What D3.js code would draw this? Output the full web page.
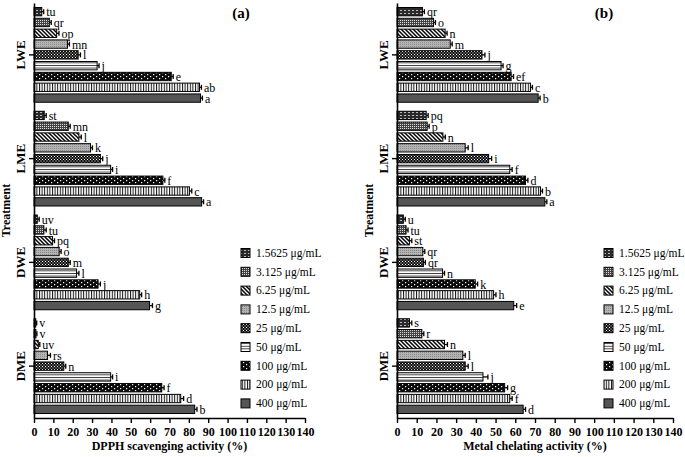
<!DOCTYPE html>
<html><head><meta charset="utf-8">
<script src="https://cdn.jsdelivr.net/npm/d3@7"></script>
<style>body{margin:0;background:#fff}svg{display:block}</style>
</head><body>
<svg id="c" width="685" height="457"></svg>
<script>
const groups = ["LWE", "LME", "DWE", "DME"];
const concentrations = ["1.5625 μg/mL","3.125 μg/mL","6.25 μg/mL","12.5 μg/mL","25 μg/mL","50 μg/mL","100 μg/mL","200 μg/mL","400 μg/mL"];
const xTicks = [0,10,20,30,40,50,60,70,80,90,100,110,120,130,140];

const dpphValues = {
  LWE: [4.0, 7.9, 11.7, 17.3, 22.8, 32.6, 70.9, 85.5, 86.0],
  LME: [5.3, 17.7, 23.2, 29.2, 34.3, 39.6, 66.6, 80.3, 86.6],
  DWE: [1.7, 5.1, 9.6, 13.0, 17.7, 22.0, 33.1, 54.6, 59.7],
  DME: [0.9, 1.0, 2.2, 7.0, 15.4, 39.6, 66.0, 75.8, 83.0]
};
const dpphErrors = {
  LWE: [1.0, 1.0, 1.2, 1.0, 1.2, 1.0, 1.0, 1.0, 1.0],
  LME: [1.0, 1.0, 1.2, 1.0, 1.2, 1.0, 1.0, 1.2, 1.0],
  DWE: [1.0, 1.2, 1.0, 1.0, 1.0, 1.2, 1.2, 1.0, 1.5],
  DME: [0.5, 0.5, 0.8, 1.5, 1.0, 1.0, 1.2, 1.5, 1.2]
};
const dpphLetters = {
  LWE: ["tu","qr","op","mn","l","j","e","ab","a"],
  LME: ["st","mn","l","k","j","i","f","c","a"],
  DWE: ["uv","tu","pq","o","m","l","j","h","g"],
  DME: ["v","v","uv","rs","n","i","f","d","b"]
};

const mcaValues = {
  LWE: [12.9, 18.5, 24.4, 27.0, 43.1, 52.8, 57.9, 67.7, 71.6],
  LME: [14.8, 15.3, 23.3, 34.6, 46.5, 57.2, 65.2, 72.8, 75.0],
  DWE: [3.2, 4.6, 6.3, 13.1, 13.4, 23.1, 39.7, 49.0, 59.2],
  DME: [6.3, 12.6, 24.1, 33.4, 34.6, 43.6, 54.6, 57.2, 64.0]
};
const mcaErrors = {
  LWE: [1.0, 1.0, 1.0, 1.0, 1.5, 1.0, 1.2, 1.0, 1.0],
  LME: [1.0, 1.0, 1.2, 1.5, 1.5, 1.2, 1.2, 1.0, 1.0],
  DWE: [1.0, 1.0, 1.2, 1.0, 1.0, 1.0, 1.2, 1.2, 1.5],
  DME: [1.2, 1.0, 1.5, 1.2, 1.5, 2.5, 1.5, 1.2, 1.2]
};
const mcaLetters = {
  LWE: ["qr","o","n","m","j","g","ef","c","b"],
  LME: ["pq","p","n","l","i","f","d","b","a"],
  DWE: ["u","tu","st","qr","qr","n","k","h","e"],
  DME: ["s","r","n","l","l","j","g","f","d"]
};

const svg = d3.select("#c");
const FONT = "'Liberation Serif','Times New Roman',serif";
const defs = svg.append("defs");

function pat(id, w, h, bg, draw) {
  const p = defs.append("pattern").attr("id", id).attr("patternUnits","userSpaceOnUse")
    .attr("width", w).attr("height", h);
  p.append("rect").attr("width", w).attr("height", h).attr("fill", bg);
  draw(p);
}
pat("p0", 4, 3, "#2a2a2a", p => {
  p.append("rect").attr("x",0).attr("y",1).attr("width",2).attr("height",1).attr("fill","#bbb");
});
pat("p1", 2, 2, "#444", p => {
  p.append("rect").attr("x",0).attr("y",0).attr("width",1).attr("height",1).attr("fill","#ddd");
});
pat("p2", 4, 4, "#fff", p => {
  p.append("path").attr("d","M-1,-1 L5,5 M-1,3 L1,5 M3,-1 L5,1").attr("stroke","#000").attr("stroke-width",1.5);
});
pat("p3", 2, 2, "#b4b4b4", p => {
  p.append("rect").attr("x",0).attr("y",0).attr("width",1).attr("height",1).attr("fill","#888");
});
pat("p4", 3, 3, "#111", p => {
  p.append("rect").attr("x",0).attr("y",0).attr("width",1).attr("height",1).attr("fill","#fff");
  p.append("rect").attr("x",1.5).attr("y",1.5).attr("width",1).attr("height",1).attr("fill","#eee");
});
pat("p5", 4, 2.6, "#fff", p => {
  p.append("rect").attr("x",0).attr("y",0).attr("width",4).attr("height",0.9).attr("fill","#333");
});
pat("p6", 6, 4, "#0a0a0a", p => {
  p.append("rect").attr("x",0).attr("y",0).attr("width",1.2).attr("height",1.2).attr("fill","#fff");
  p.append("rect").attr("x",3).attr("y",2).attr("width",1.2).attr("height",1.2).attr("fill","#fff");
});
pat("p7", 2.6, 4, "#fff", p => {
  p.append("rect").attr("x",0).attr("y",0).attr("width",1).attr("height",4).attr("fill","#111");
});
pat("p8", 4, 4, "#555", p => {});

const fills = concentrations.map((c,i) => `url(#p${i})`);

const plotTop = 3, plotBottom = 418;
const yBand = d3.scaleBand().domain(groups).range([plotTop, plotBottom]).paddingInner(0).paddingOuter(0);

function drawPanel(ox, width, values, errors, letters, title, xlabel) {
  const g = svg.append("g");
  const x = d3.scaleLinear().domain([0, 140]).range([ox, ox + width]);
  const inner = d3.scaleBand().domain(d3.range(9)).range([4.5, yBand.bandwidth() - 4.5]).paddingInner(0.23).paddingOuter(0);
  const bh = inner.bandwidth();

  groups.forEach(gr => {
    const gy = yBand(gr);
    values[gr].forEach((v, i) => {
      const y0 = gy + inner(i);
      const yc = y0 + bh / 2;
      g.append("rect").attr("x", x(0)).attr("y", y0).attr("width", x(v) - x(0)).attr("height", bh)
        .attr("fill", fills[i]).attr("stroke", "#000").attr("stroke-width", 1);
      const e = errors[gr][i];
      const xe = x(v + e);
      g.append("line").attr("x1", x(v)).attr("x2", xe).attr("y1", yc).attr("y2", yc).attr("stroke","#000").attr("stroke-width",1.3);
      g.append("line").attr("x1", xe).attr("x2", xe).attr("y1", yc - 2.5).attr("y2", yc + 2.5).attr("stroke","#000").attr("stroke-width",1.3);
      g.append("text").attr("x", xe + 2.5).attr("y", yc).attr("dy", "0.38em")
        .attr("font-family", FONT).attr("font-size", 12).attr("fill","#000").text(letters[gr][i]);
    });
  });

  const xa = g.append("g").attr("transform", `translate(0,${plotBottom})`)
    .call(d3.axisBottom(x).tickValues(xTicks).tickSize(5).tickSizeOuter(0).tickFormat(d3.format("d")));
  xa.select(".domain").attr("stroke-width", 1.6);
  xa.selectAll(".tick line").attr("stroke-width", 1.4);
  xa.selectAll("text").attr("font-family", FONT).attr("font-weight", "bold").attr("font-size", 12).attr("dy", "0.85em").attr("fill","#000");

  const ya = g.append("g").attr("transform", `translate(${ox},0)`)
    .call(d3.axisLeft(yBand).tickSize(5).tickSizeOuter(0).tickFormat(""));
  ya.select(".domain").attr("stroke-width", 1.6);
  ya.selectAll(".tick line").attr("stroke-width", 1.4);
  groups.forEach(gr => {
    const cy = yBand(gr) + yBand.bandwidth() / 2;
    g.append("text").attr("transform", `translate(${ox - 9},${cy}) rotate(-90)`)
      .attr("text-anchor", "middle").attr("font-family", FONT).attr("font-weight", "bold").attr("font-size", 13).text(gr);
  });
  g.append("text").attr("transform", `translate(${ox - 24},${(plotTop + plotBottom) / 2}) rotate(-90)`)
    .attr("text-anchor", "middle").attr("font-family", FONT).attr("font-weight", "bold").attr("font-size", 12).text("Treatment");

  g.append("text").attr("x", (x(0) + x(140)) / 2).attr("y", 450).attr("text-anchor", "middle")
    .attr("font-family", FONT).attr("font-weight", "bold").attr("font-size", 12).text(xlabel);
  g.append("text").attr("x", ox + 207).attr("y", 18).attr("text-anchor", "middle")
    .attr("font-family", FONT).attr("font-weight", "bold").attr("font-size", 15).text(title);

  const lx = ox + 207;
  concentrations.forEach((c, i) => {
    const ly = 253 + i * 18.8;
    g.append("rect").attr("x", lx).attr("y", ly - 4.5).attr("width", 9).attr("height", 9)
      .attr("fill", fills[i]).attr("stroke", "#000").attr("stroke-width", 1);
    g.append("text").attr("x", lx + 15).attr("y", ly).attr("dy", "0.33em")
      .attr("font-family", FONT).attr("font-size", 11.5).text(c);
  });
}

drawPanel(34, 271, dpphValues, dpphErrors, dpphLetters, "(a)", "DPPH scavenging activity (%)");
drawPanel(397, 276, mcaValues, mcaErrors, mcaLetters, "(b)", "Metal chelating activity (%)");
</script>
</body></html>
